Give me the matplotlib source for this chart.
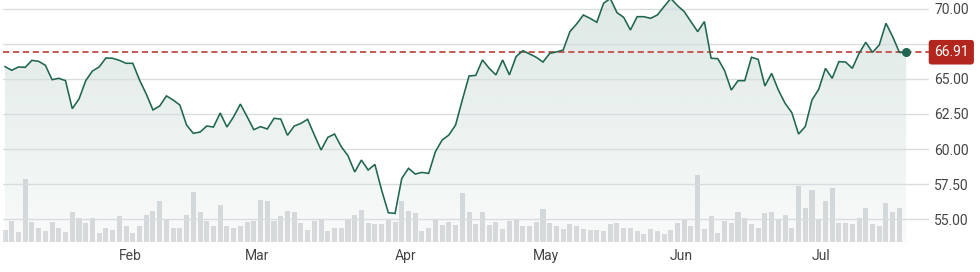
import numpy as np
import matplotlib
matplotlib.use("Agg")
import matplotlib.pyplot as plt
from matplotlib.patches import Polygon
import matplotlib.transforms as mtransforms

plt.rcParams['font.family'] = ['Roboto', 'DejaVu Sans']

prices = [
    65.88, 65.62, 65.86, 65.83, 66.33, 66.26, 65.98, 64.95, 65.05, 64.88,
    62.88, 63.57, 64.88, 65.57, 65.86, 66.50, 66.48, 66.33, 66.12, 66.12,
    64.93, 63.93, 62.79, 63.07, 63.79, 63.50, 63.14, 61.71, 61.12, 61.21,
    61.64, 61.57, 62.57, 61.57, 62.31, 63.21, 62.31, 61.38, 61.60, 61.43,
    62.19, 62.14, 60.98, 61.64, 61.83, 62.12, 61.00, 59.93, 60.83, 61.07,
    60.17, 59.52, 58.36, 59.21, 58.50, 58.90, 57.07, 55.45, 55.40, 57.90,
    58.62, 58.21, 58.33, 58.26, 59.81, 60.64, 61.00, 61.71, 63.50, 65.21,
    65.26, 66.36, 65.76, 65.29, 66.36, 65.29, 66.60, 67.02, 66.79, 66.55,
    66.21, 66.83, 66.93, 67.07, 68.38, 68.93, 69.57, 69.33, 69.05, 70.40,
    70.75, 69.74, 69.40, 68.50, 69.45, 69.45, 69.33, 69.57, 70.17, 70.75,
    70.24, 69.81, 69.10, 68.38, 69.10, 66.48, 66.45, 65.60, 64.21, 64.88,
    64.88, 66.55, 66.40, 64.50, 65.40, 64.21, 63.26, 62.60, 61.07, 61.60,
    63.50, 64.26, 65.76, 65.05, 66.24, 66.21, 65.76, 66.83, 67.62, 66.90,
    67.43, 68.98, 68.02, 66.90, 66.91,
]

volumes = [
    3.7, 6.3, 3.0, 19.0, 6.0, 4.3, 3.3, 6.0, 4.3, 3.0, 9.0, 7.3, 5.7, 7.3, 2.7, 4.3, 3.7, 7.7, 4.7,
    2.7, 4.7, 8.0, 9.3, 12.4, 7.0, 4.3, 4.3, 8.0, 15.0, 9.0, 6.3, 4.7, 11.0, 4.7, 4.3, 4.7, 6.0, 6.3, 12.7,
    12.3, 6.3, 7.7, 9.3, 9.0, 5.7, 3.7, 6.3, 6.7, 3.3, 4.3, 4.3, 7.0, 8.0, 9.7, 5.7, 5.3, 5.3, 7.0,
    6.0, 12.3, 9.3, 8.7, 3.3, 4.3, 6.7, 5.0, 6.0, 5.0, 14.7, 9.0, 5.3, 9.0, 5.0, 6.0, 4.0, 6.3, 7.0,
    4.7, 4.7, 6.0, 10.0, 5.7, 4.7, 4.0, 5.3, 4.7, 4.0, 3.7, 3.7, 3.3, 5.3, 5.7, 4.3, 4.3, 3.3, 2.3, 4.0,
    3.3, 2.3, 3.7, 5.7, 7.0, 4.7, 20.2, 4.0, 7.7, 2.7, 6.3, 5.7, 9.0, 7.3, 5.3, 4.3, 8.7, 9.0, 7.0,
    8.0, 4.3, 16.7, 10.3, 15.5, 7.0, 12.4, 16.3, 5.7, 5.7, 5.3, 7.3, 10.3, 5.3, 4.7, 11.7, 9.0, 10.3,
]

month_labels = ["Feb", "Mar", "Apr", "May", "Jun", "Jul"]
month_positions = [18.6, 37.5, 59.5, 80.4, 100.5, 121.4]
price_ticks = [55.0, 57.5, 60.0, 62.5, 65.0, 70.0]
grid_levels = [55.0, 57.5, 60.0, 62.5, 65.0, 67.5, 70.0]
last_price = 66.91

W, H = 980, 272
fig = plt.figure(figsize=(W / 100, H / 100), dpi=100)
fig.patch.set_facecolor('white')
rect = [3 / W, 30 / H, 926 / W, 242 / H]
axv = fig.add_axes(rect, zorder=0)
ax = fig.add_axes(rect, zorder=1)
ax.patch.set_alpha(0)

x = np.arange(len(prices))
xv = np.arange(len(volumes))
xlim = (-0.3, 137.4)
ylim = (53.36, 70.64)

axv.bar(xv, volumes, width=0.75, color='#dcdee1', linewidth=0)
axv.set_xlim(xlim)
axv.set_ylim(0, 72.6)
axv.axis('off')

green = np.array([31, 102, 80]) / 255.0
n = 256
grad = np.zeros((n, 1, 4))
grad[..., :3] = green
grad[..., 3] = np.linspace(0.03, 0.15, n)[:, None]
im = ax.imshow(grad, extent=[x[0], x[-1], ylim[0], ylim[1]], origin='lower',
               aspect='auto', interpolation='bilinear', zorder=0.5)
verts = [(x[0], ylim[0])] + list(zip(x, prices)) + [(x[-1], ylim[0])]
poly = Polygon(verts, closed=True, facecolor='none', edgecolor='none')
ax.add_patch(poly)
im.set_clip_path(poly)

for g in grid_levels:
    ax.axhline(g, color='#d8dce0', lw=1.0, zorder=1)

ax.axhline(last_price, color='#c65a52', lw=1.4, ls=(0, (3.2, 1.9)), zorder=2)
ax.plot(x, prices, color='#1f6650', lw=1.15, zorder=3, solid_joinstyle='miter')
ax.plot(x[-1], prices[-1], 'o', ms=5.5, color='#1f6650', zorder=4)

ax.set_xlim(xlim)
ax.set_ylim(ylim)
for s in ax.spines.values():
    s.set_visible(False)

ax.yaxis.tick_right()
ax.set_yticks(price_ticks, labels=[f"{v:.2f}" for v in price_ticks])
ax.tick_params(axis='y', length=0, pad=3.6, labelsize=10, labelcolor='#444444')
ax.set_xticks(month_positions, labels=month_labels)
ax.tick_params(axis='x', length=0, pad=5, labelsize=10, labelcolor='#444444')

trans = mtransforms.blended_transform_factory(ax.transAxes, ax.transData)
ax.text(1 + 5 / 926, last_price, f"{last_price:.2f}", transform=trans,
        ha='left', va='center', color='white', fontsize=10, zorder=6, clip_on=False,
        bbox=dict(boxstyle='round,pad=0.38,rounding_size=0.2', fc='#b3261e', ec='none'))

fig.savefig('out.png', dpi=100, facecolor='white')
